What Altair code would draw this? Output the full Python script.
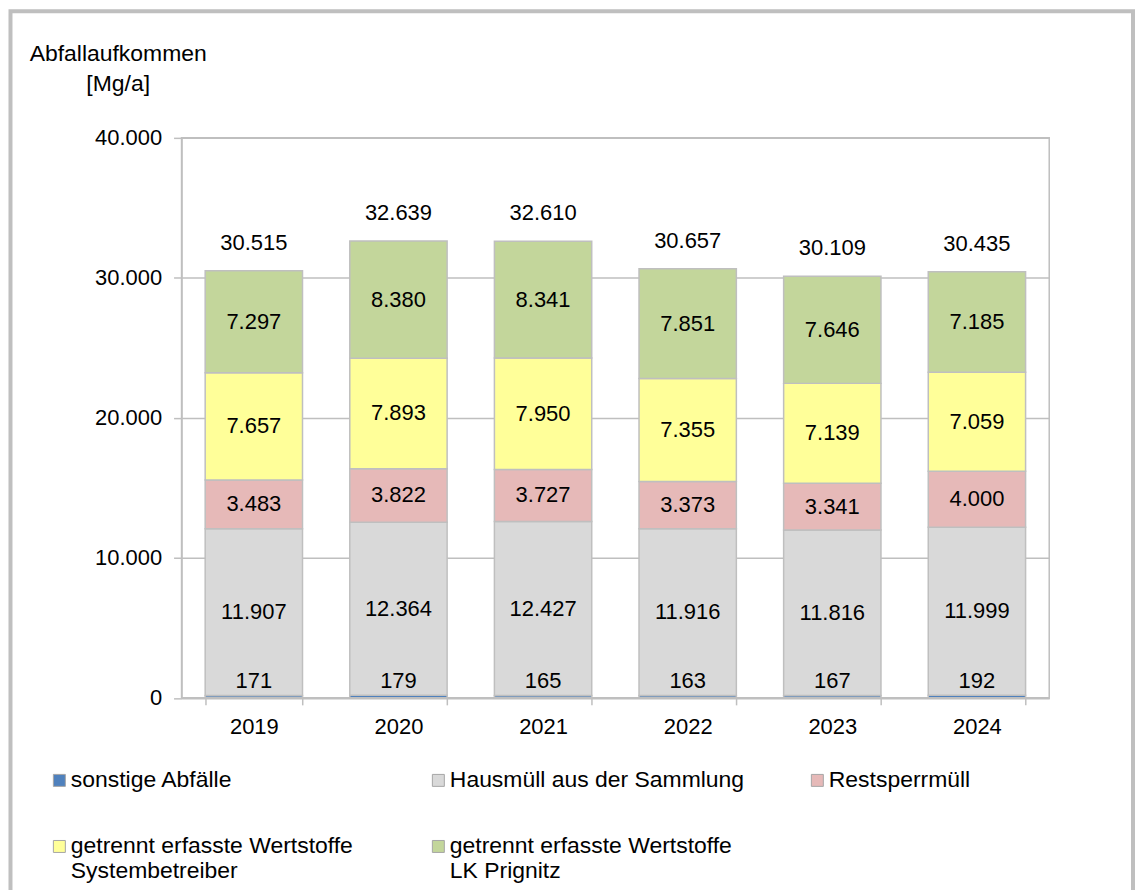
import altair as alt
import pandas as pd

years = ["2019", "2020", "2021", "2022", "2023", "2024"]
sonstige = [171, 179, 165, 163, 167, 192]
hausmuell = [11907, 12364, 12427, 11916, 11816, 11999]
restsperr = [3483, 3822, 3727, 3373, 3341, 4000]
system = [7657, 7893, 7950, 7355, 7139, 7059]
prignitz = [7297, 8380, 8341, 7851, 7646, 7185]
totals = [30515, 32639, 32610, 30657, 30109, 30435]

series_names = [
    "sonstige Abfälle",
    "Hausmüll aus der Sammlung",
    "Restsperrmüll",
    "getrennt erfasste Wertstoffe\nSystembetreiber",
    "getrennt erfasste Wertstoffe\nLK Prignitz",
]
series_colors = ["#4F81BD", "#D9D9D9", "#E6B9B8", "#FFFF99", "#C3D69B"]
series_values = [sonstige, hausmuell, restsperr, system, prignitz]
# legend fills column by column (2 rows): order so that it reads row-wise
legend_order = [0, 3, 1, 4, 2]


def de(v):
    return f"{v:,}".replace(",", ".")


rows = []
for si, (name, vals) in enumerate(zip(series_names, series_values)):
    for y, v in zip(years, vals):
        rows.append({"year": y, "series": name, "idx": si, "value": v, "label": de(v)})
df = pd.DataFrame(rows)
tot_df = pd.DataFrame({"year": years, "total": totals, "label": [de(t) for t in totals]})

FONT = "Liberation Sans"
GRAY = "#BFBFBF"

x_enc = alt.X(
    "year:N",
    title=None,
    scale=alt.Scale(paddingInner=0.327, paddingOuter=0.1635),
    axis=alt.Axis(
        labelAngle=0, tickBand="extent", tickSize=7, labelPadding=12,
        labelFontSize=22, labelColor="#000000", domainColor=GRAY, tickColor=GRAY,
        domainWidth=1.5, tickWidth=1.5, grid=False,
    ),
)
y_scale = alt.Scale(domain=[0, 40000], nice=False)

base = alt.Chart(df)

bars = base.mark_bar(stroke=GRAY, strokeWidth=1.5).encode(
    x=x_enc,
    y=alt.Y(
        "sum(value):Q",
        scale=y_scale,
        stack="zero",
        axis=alt.Axis(
            values=[0, 10000, 20000, 30000, 40000],
            labelExpr="replace(format(datum.value, ','), ',', '.')",
            labelFontSize=22, labelColor="#000000", labelPadding=12, tickSize=8,
            domainColor=GRAY, tickColor=GRAY, gridColor=GRAY, domainWidth=1.5,
            tickWidth=1.5, gridWidth=1.5,
            title=["Abfallaufkommen", "[Mg/a]"], titleAngle=0, titleAlign="center",
            titleBaseline="top", titleX=-64, titleY=-96, titleFontSize=23,
            titleFontWeight="normal", titleLineHeight=31, titleColor="#000000",
        ),
    ),
    color=alt.Color(
        "series:N",
        scale=alt.Scale(
            domain=[series_names[i] for i in legend_order],
            range=[series_colors[i] for i in legend_order],
        ),
        legend=alt.Legend(
            title=None, orient="none", legendX=-134, legendY=620, columns=3,
            symbolType="square", symbolSize=144, symbolStrokeColor="#A6A6A6",
            symbolStrokeWidth=1, labelFontSize=23, labelLimit=600,
            labelExpr="split(datum.label, '\\n')", columnPadding=61,
            rowPadding=30, gridAlign="all", labelOffset=0, labelColor="#000000",
        ),
    ),
    order=alt.Order("idx:Q", sort="ascending"),
)

stacked = base.transform_stack(
    stack="value", groupby=["year"], as_=["v0", "v1"],
    sort=[alt.SortField("idx", order="ascending")],
).transform_calculate(mid="(datum.v0 + datum.v1) / 2")

seg_labels = stacked.transform_filter("datum.idx > 0").mark_text(
    fontSize=22, color="#000000", baseline="middle"
).encode(x=alt.X("year:N"), y=alt.Y("mid:Q", scale=y_scale), text="label:N")

small_labels = stacked.transform_filter("datum.idx == 0").mark_text(
    fontSize=22, color="#000000", baseline="middle", dy=-16
).encode(x=alt.X("year:N"), y=alt.Y("mid:Q", scale=y_scale), text="label:N")

total_labels = alt.Chart(tot_df).mark_text(
    fontSize=22, color="#000000", baseline="middle", dy=-28
).encode(x=alt.X("year:N"), y=alt.Y("total:Q", scale=y_scale), text="label:N")

frame = alt.Chart(pd.DataFrame({"f": [0]})).mark_rect(
    fill=None, stroke=GRAY, strokeWidth=4
).encode(
    x=alt.value(-171.5), x2=alt.value(954), y=alt.value(-127), y2=alt.value(770)
)

chart = alt.layer(bars, seg_labels, small_labels, total_labels, frame).properties(
    width=870, height=561.5, padding=0
).configure(
    font=FONT,
).configure_view(
    stroke=GRAY, strokeWidth=1.5
).configure_text(font=FONT)

chart.save("out.html", embed_options={"renderer": "svg", "actions": False})
